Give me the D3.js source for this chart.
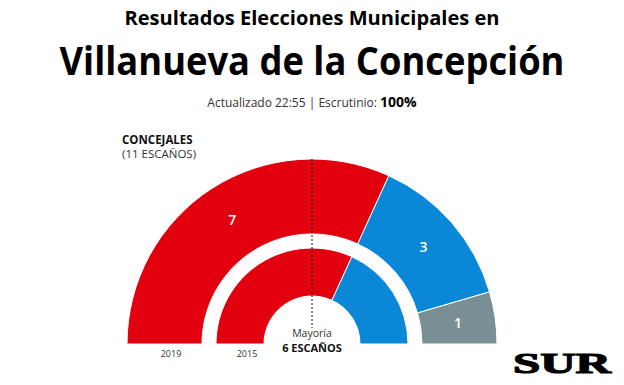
<!DOCTYPE html>
<html>
<head>
<meta charset="utf-8">
<script src="https://cdnjs.cloudflare.com/ajax/libs/d3/7.8.5/d3.min.js"></script>
<style>
  body { margin: 0; background: #fff; }
  text { font-family: "Open Sans", sans-serif; }
</style>
</head>
<body>
<div id="chart"></div>
<script>
const parties = ["A", "B", "C"];
const colors = ["#e2000f", "#0a87d6", "#7a8f95"];
const seats2019 = [7, 3, 1];
const seats2015 = [7, 4, 0];
const ringLabels = ["2019", "2015"];
const totalSeats = 11;
const majority = 6;

const width = 624, height = 385;
const cx = 312, cy = 344;

const svg = d3.select("#chart").append("svg")
    .attr("width", width)
    .attr("height", height);

// titles
svg.append("text")
    .attr("x", cx).attr("y", 25)
    .attr("text-anchor", "middle")
    .style("font-size", "20px").style("font-weight", "700")
    .attr("textLength", 375).attr("lengthAdjust", "spacingAndGlyphs")
    .text("Resultados Elecciones Municipales en");

svg.append("text")
    .attr("x", cx).attr("y", 75)
    .attr("text-anchor", "middle")
    .style("font-size", "40px").style("font-weight", "700")
    .attr("textLength", 505).attr("lengthAdjust", "spacingAndGlyphs")
    .text("Villanueva de la Concepción");

const upd = svg.append("text")
    .attr("x", cx).attr("y", 107)
    .attr("text-anchor", "middle")
    .style("font-size", "12px").style("fill", "#333");
upd.append("tspan").text("Actualizado 22:55 | Escrutinio: ");
upd.append("tspan").style("font-weight", "700").style("font-size", "14px").style("fill", "#000").text("100%");

svg.append("text")
    .attr("x", 122).attr("y", 144)
    .style("font-size", "11.5px").style("font-weight", "700").style("fill", "#111")
    .text("CONCEJALES");
svg.append("text")
    .attr("x", 122).attr("y", 158)
    .style("font-size", "11.5px").style("fill", "#333")
    .text("(11 ESCAÑOS)");

const angle = d3.scaleLinear().domain([0, totalSeats]).range([-Math.PI / 2, Math.PI / 2]);

const rings = [
    { seats: seats2019, inner: 110, outer: 185, labels: true },
    { seats: seats2015, inner: 48, outer: 96, labels: false }
];

const g = svg.append("g").attr("transform", `translate(${cx},${cy})`);

rings.forEach(ring => {
    let acc = 0;
    const segs = ring.seats.map((s, i) => {
        const d = { start: acc, end: acc + s, value: s, color: colors[i] };
        acc += s;
        return d;
    }).filter(d => d.value > 0);

    const arc = d3.arc().innerRadius(ring.inner).outerRadius(ring.outer)
        .startAngle(d => angle(d.start)).endAngle(d => angle(d.end));

    g.selectAll(null).data(segs).enter().append("path")
        .attr("d", arc)
        .attr("fill", d => d.color)
        .attr("stroke", "#fff")
        .attr("stroke-width", 1);

    if (ring.labels) {
        g.selectAll(null).data(segs).enter().append("text")
            .attr("transform", d => `translate(${arc.centroid(d)})`)
            .attr("text-anchor", "middle")
            .attr("dy", "0.35em")
            .style("fill", "#fff").style("font-size", "14px").style("font-weight", "600")
            .text(d => d.value);
    }
});

// majority line
svg.append("line")
    .attr("x1", cx).attr("x2", cx)
    .attr("y1", cy - 185).attr("y2", cy - 16)
    .attr("stroke", "#111").attr("stroke-width", 1)
    .attr("stroke-dasharray", "2,2");

svg.append("text")
    .attr("x", cx).attr("y", 337)
    .attr("text-anchor", "middle")
    .style("font-size", "10.5px").style("fill", "#333")
    .text("Mayoría");
svg.append("text")
    .attr("x", cx).attr("y", 352)
    .attr("text-anchor", "middle")
    .style("font-size", "11px").style("font-weight", "700").style("fill", "#111")
    .text(`${majority} ESCAÑOS`);

// ring year labels
svg.append("text").attr("x", 171).attr("y", 357)
    .attr("text-anchor", "middle").style("font-size", "9px").style("fill", "#333")
    .text(ringLabels[0]);
svg.append("text").attr("x", 247).attr("y", 357)
    .attr("text-anchor", "middle").style("font-size", "9px").style("fill", "#333")
    .text(ringLabels[1]);

// logo
svg.append("text")
    .attr("x", 562).attr("y", 373)
    .attr("text-anchor", "middle")
    .style("font-family", "'Liberation Serif', serif")
    .style("font-size", "30px").style("font-weight", "700")
    .attr("stroke", "#000").attr("stroke-width", 1.2)
    .attr("textLength", 98).attr("lengthAdjust", "spacingAndGlyphs")
    .text("SUR");
</script>
</body>
</html>
